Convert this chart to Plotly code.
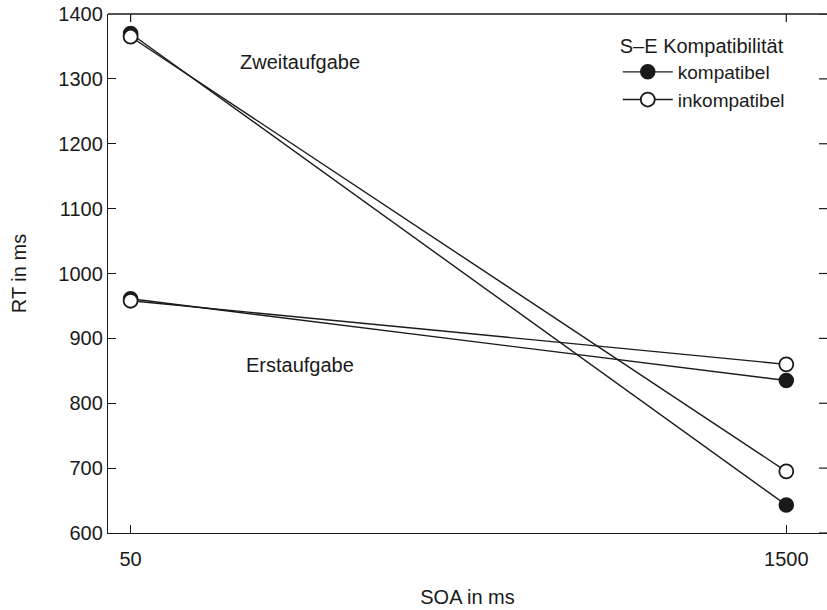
import plotly.graph_objects as go

# SOA levels (ms)
soa = [50, 1500]

# Mean RTs (ms) per task and S-R compatibility
zweit_kompatibel = [1370, 643]
zweit_inkompatibel = [1365, 695]
erst_kompatibel = [961, 835]
erst_inkompatibel = [958, 860]

x_ticks = [50, 1500]
y_ticks = [600, 700, 800, 900, 1000, 1100, 1200, 1300, 1400]

FONT = "Liberation Sans, Arial, Helvetica, sans-serif"
INK = "#1a1a1a"
FS = 20

fig = go.Figure()

filled = dict(symbol="circle", size=14, color=INK, line=dict(color=INK, width=1.5))
hollow = dict(symbol="circle", size=14, color="white", line=dict(color=INK, width=1.8))
line_style = dict(color=INK, width=1.4)

fig.add_trace(go.Scatter(x=soa, y=zweit_kompatibel, mode="lines+markers",
                         line=line_style, marker=filled, name="kompatibel",
                         legendgroup="k"))
fig.add_trace(go.Scatter(x=soa, y=erst_kompatibel, mode="lines+markers",
                         line=line_style, marker=filled, name="kompatibel",
                         legendgroup="k", showlegend=False))
fig.add_trace(go.Scatter(x=soa, y=zweit_inkompatibel, mode="lines+markers",
                         line=line_style, marker=hollow, name="inkompatibel",
                         legendgroup="i"))
fig.add_trace(go.Scatter(x=soa, y=erst_inkompatibel, mode="lines+markers",
                         line=line_style, marker=hollow, name="inkompatibel",
                         legendgroup="i", showlegend=False))

x_range = [0, 1590]
y_range = [600, 1400]

frame_line = dict(color=INK, width=1.3)
tick_line = dict(color=INK, width=1.2)

# top border of the frame
shapes = [dict(type="line", xref="paper", yref="paper", x0=0, x1=1, y0=1, y1=1,
               line=frame_line)]
# inward ticks along the top edge
shapes += [
    dict(type="line", xref="x", yref="paper", ysizemode="pixel", yanchor=1,
         x0=v, x1=v, y0=-8, y1=0, line=tick_line)
    for v in x_ticks
]
# inward ticks along the right edge
shapes += [
    dict(type="line", xref="paper", yref="y", xsizemode="pixel", xanchor=1,
         x0=-8, x1=0, y0=v, y1=v, line=tick_line)
    for v in y_ticks
]

fig.update_layout(
    template="none",
    width=827, height=610,
    margin=dict(l=108, r=0, t=14, b=77),
    paper_bgcolor="white", plot_bgcolor="rgba(0,0,0,0)",
    font=dict(family=FONT, size=FS, color=INK),
    xaxis=dict(range=x_range, tickvals=x_ticks, ticks="inside", ticklen=8,
               tickcolor=INK, showline=True, linecolor=INK, linewidth=1.3,
               mirror=False, showgrid=False, zeroline=False,
               tickfont=dict(size=FS), ticklabelstandoff=8,
               title=dict(text="SOA in ms", standoff=20, font=dict(size=FS))),
    yaxis=dict(range=y_range, tickvals=y_ticks, ticks="inside", ticklen=8,
               tickcolor=INK, showline=True, linecolor=INK, linewidth=1.3,
               mirror=False, showgrid=False, zeroline=False,
               tickfont=dict(size=FS),
               title=dict(text="RT in ms", standoff=26, font=dict(size=FS))),
    shapes=shapes,
    legend=dict(x=0.709, y=0.975, xanchor="left", yanchor="top",
                bgcolor="rgba(255,255,255,0)", font=dict(size=19),
                title=dict(text="S\u2013E Kompatibilität", font=dict(size=FS)),
                tracegroupgap=0, itemwidth=50),
    showlegend=True,
    annotations=[
        dict(text="Zweitaufgabe", x=424, y=1326, xref="x", yref="y",
             showarrow=False, font=dict(size=FS)),
        dict(text="Erstaufgabe", x=424, y=859, xref="x", yref="y",
             showarrow=False, font=dict(size=FS)),
    ],
)

fig.write_html("out.html")
